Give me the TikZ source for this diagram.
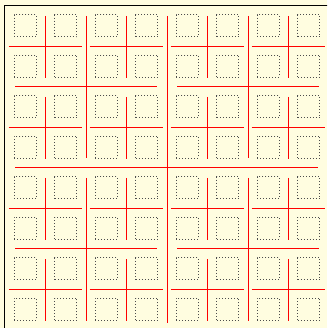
\documentclass[tikz,border=0pt]{standalone}
\begin{document}
\begin{tikzpicture}[
                x=1pt, y=-1pt,
                cell/.style={
                    draw=black!70,
                    dash pattern=on 1pt off 2pt,
                    line width=0.8pt,
                    rectangle,
                    minimum width=22pt,
                    minimum height=22pt,
                    inner sep=0pt
                },
                split/.style={
                    draw=red,
                    line width=0.9pt
                },
                outline/.style={
                    draw=black,
                    line width=0.9pt
                }
            ]

                \useasboundingbox (0,0) rectangle (327,328);
                \clip (0,0) rectangle (327,328);
                \fill[yellow!12] (0,0) rectangle (327,328);
                \draw[outline] (4.5,340) -- (4.5,5.5) -- (340,5.5);

                \foreach \i in {0,...,7}
                    \foreach \j in {0,...,7}
                        \node[cell] (c\i\j) at ({25.25+40.5*\i},{25.75+40.5*\j}) {};

                \foreach \bx in {0,...,3}
                    \foreach \by in {0,...,3} {
                        \pgfmathsetmacro\L{5+81*\bx}
                        \pgfmathsetmacro\T{5.5+81*\by}
                        \draw[split] ({\L+40.5},{\T+10.5}) -- ({\L+40.5},{\T+72.5});
                        \draw[split] ({\L+3.5},{\T+40.5}) -- ({\L+76.5},{\T+40.5});
                    }

                \foreach \bx in {0,1}
                    \foreach \by in {0,1} {
                        \pgfmathsetmacro\L{5+162*\bx}
                        \pgfmathsetmacro\T{5.5+162*\by}
                        \draw[split] ({\L+81},{\T+10.5}) -- ({\L+81},{\T+153});
                        \draw[split] ({\L+10},{\T+81}) -- ({\L+152},{\T+81});
                    }

                \draw[split] (167,16) -- (167,322.5);
                \draw[split] (15,167.5) -- (318,167.5);
        \end{tikzpicture}
\end{document}
